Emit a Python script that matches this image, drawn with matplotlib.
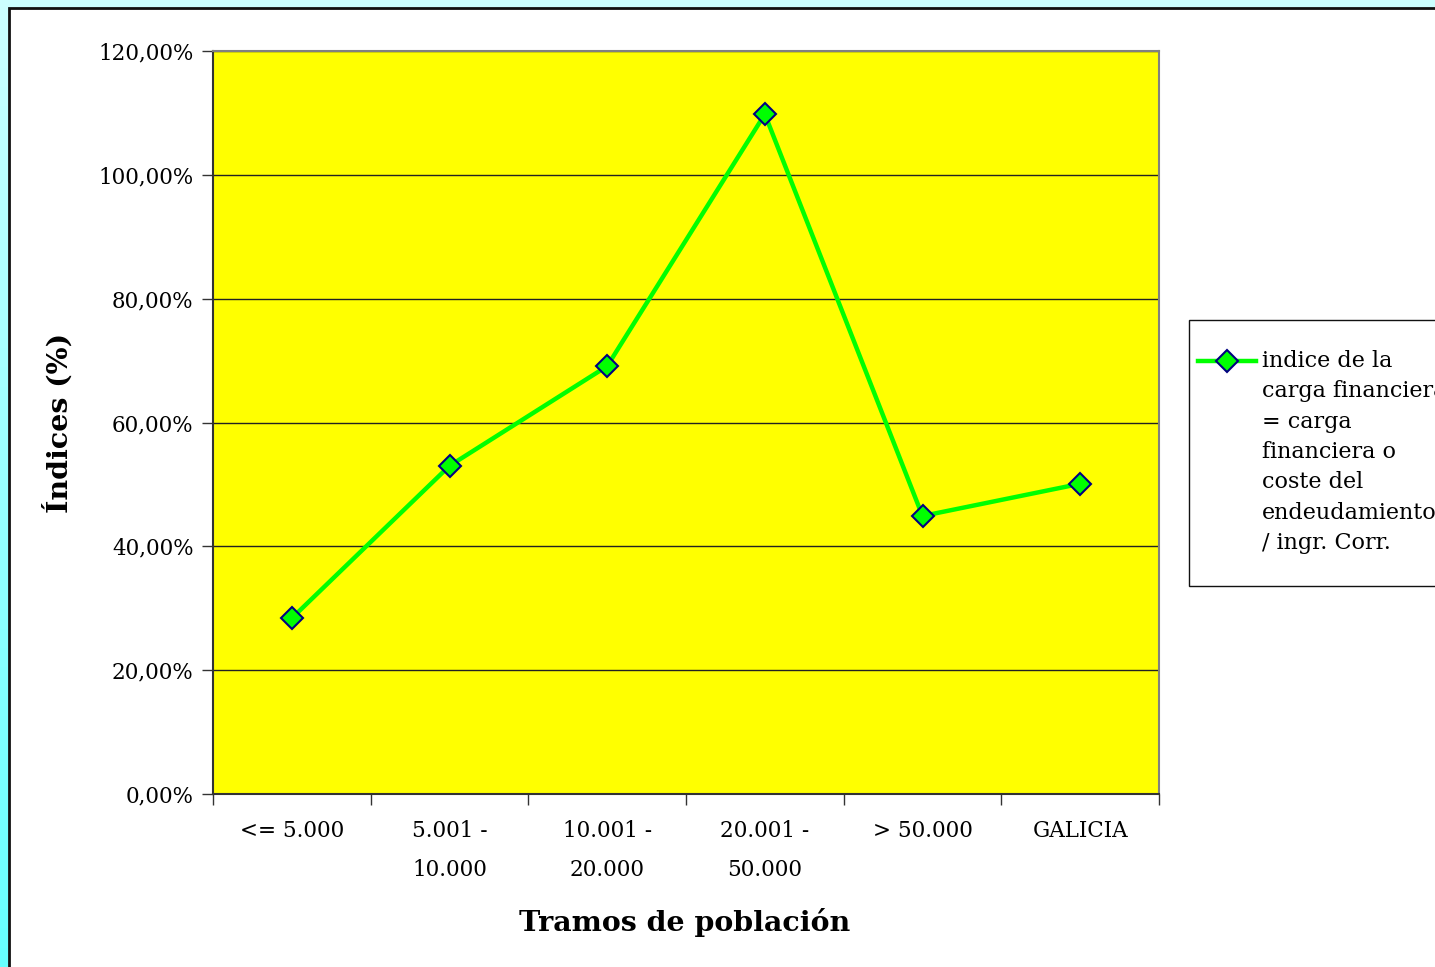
import numpy as np
import matplotlib
matplotlib.use("Agg")
import matplotlib.pyplot as plt
import matplotlib.patches as patches
from matplotlib.colors import LinearSegmentedColormap

#chart data
CATEGORIES = ["<= 5.000", "5.001 -\n10.000", "10.001 -\n20.000",
              "20.001 -\n50.000", "> 50.000", "GALICIA"]
INDICE = [28.4, 53.0, 69.1, 109.8, 44.9, 50.1]
Y_TICKS = [0, 20, 40, 60, 80, 100, 120]
LEGEND_TEXT = ("indice de la\ncarga financiera\n= carga\nfinanciera o\n"
               "coste del\nendeudamiento\n/ ingr. Corr.")

W, H = 1435, 967
FONT = "DejaVu Serif"

fig = plt.figure(figsize=(W/100, H/100), dpi=100, facecolor="#ccffff")

#background axes in pixel units: cyan strip, white chart area, legend box
bg = fig.add_axes([0, 0, 1, 1], zorder=-10)
bg.set_xlim(0, W)
bg.set_ylim(H, 0)
bg.axis("off")
cmap = LinearSegmentedColormap.from_list("cy", ["#ccffff", "#66ffff"])
bg.imshow(np.linspace(0, 1, 100).reshape(-1, 1), aspect="auto", cmap=cmap,
          extent=(0, 9, H, 0))
bg.add_patch(patches.Rectangle((9, 8), W, H, facecolor="white",
                               edgecolor="#111111", linewidth=2))
bg.add_patch(patches.Rectangle((1189, 320), 300, 266, facecolor="white",
                               edgecolor="#111111", linewidth=1))
bg.plot([1198, 1256], [361, 361], color="#00ff00", linewidth=3.2)
bg.plot([1227], [361], marker="D", markersize=11, markerfacecolor="#00ff00",
        markeredgecolor="#000080", markeredgewidth=1.5)
#legend entry is cut by the right edge in the original too
bg.text(1262, 350, LEGEND_TEXT, fontfamily=FONT, fontsize=16, va="top",
        ha="left", linespacing=1.49)
bg.set_xlim(0, W)
bg.set_ylim(H, 0)

ax = fig.add_axes([213/W, 1-794/H, 946/W, 743/H])
ax.set_facecolor("#ffff00")

x = np.arange(len(CATEGORIES))
ax.plot(x, INDICE, color="#00ff00", linewidth=3.2, marker="D", markersize=11,
        markerfacecolor="#00ff00", markeredgecolor="#000080", markeredgewidth=1.5,
        zorder=3)

ax.set_xlim(-0.5, len(CATEGORIES)-0.5)
ax.set_ylim(0, 120)

ax.set_yticks(Y_TICKS)
ax.set_yticklabels(["%d,00%%" % v for v in Y_TICKS], fontfamily=FONT,
                   fontsize=15.5)
ax.yaxis.grid(True, color="#222222", linewidth=1)
ax.set_axisbelow(True)

ax.set_xticks(x)
ax.set_xticklabels(CATEGORIES, fontfamily=FONT, fontsize=15.5, linespacing=1.95,
                   va="top")
ax.tick_params(axis="x", which="major", length=0, pad=19)
ax.set_xticks(np.arange(len(CATEGORIES)+1)-0.5, minor=True)
ax.tick_params(axis="x", which="minor", length=8, color="#333333", width=1)
ax.tick_params(axis="y", length=8, color="#333333", width=1, pad=6)

for side in ["top", "right"]:
    ax.spines[side].set_color("#808080")
    ax.spines[side].set_linewidth(1.5)
ax.spines["left"].set_color("#333333")
ax.spines["bottom"].set_color("#333333")
ax.spines["left"].set_linewidth(1.5)
ax.spines["bottom"].set_linewidth(1.5)

ax.set_ylabel("Índices (%)", fontfamily=FONT, fontsize=20.5, fontweight="bold")
ax.yaxis.set_label_coords((74-213)/946, 0.5)
ax.set_xlabel("Tramos de población", fontfamily=FONT, fontsize=20.5,
              fontweight="bold")
ax.xaxis.set_label_coords((685-213)/946, -(908-794)/743)

fig.savefig("out.png", dpi=100, facecolor=fig.get_facecolor())
